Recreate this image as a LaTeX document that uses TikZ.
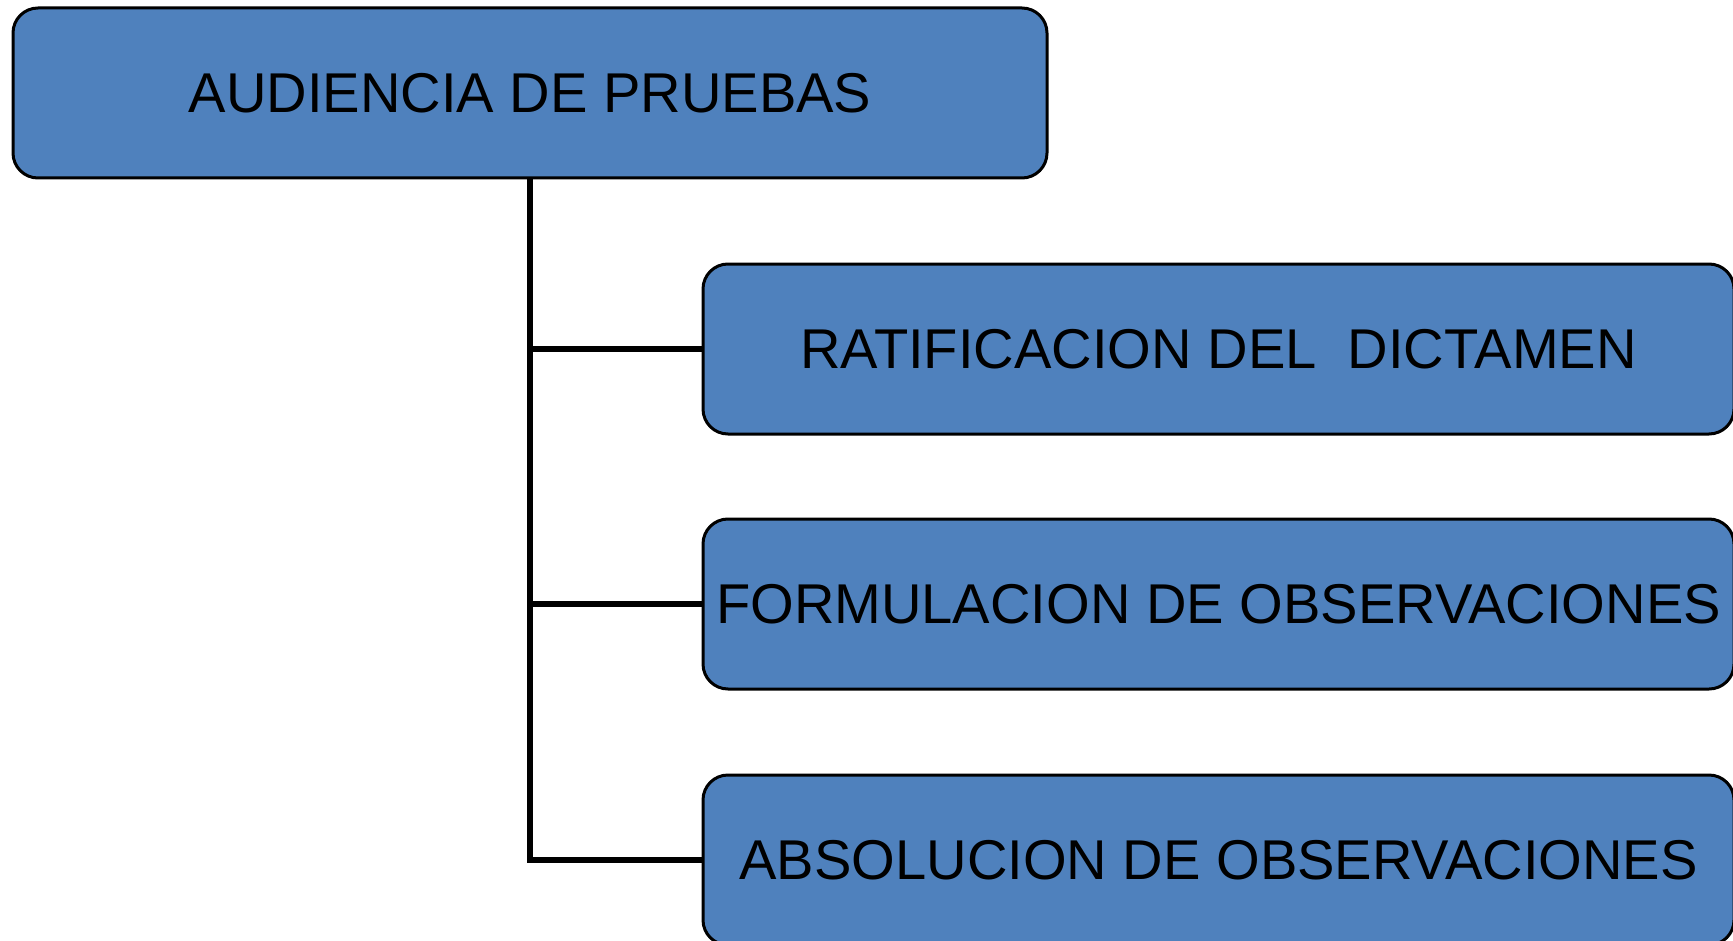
\documentclass[tikz,border=0pt]{standalone}
\usepackage{fontspec}
\setmainfont{Liberation Sans}
\usepackage{tikz}
\usetikzlibrary{positioning}
\definecolor{boxblue}{HTML}{4F81BD}

\begin{document}
\begin{tikzpicture}[
   x=1pt,y=1pt,
   font=\fontsize{28.05}{32}\selectfont,
   step box/.style={draw,line width=1.5pt,fill=boxblue,rounded corners=12.5pt,
      minimum height=85pt,inner sep=0pt},
   top box/.style={step box,minimum width=517pt},
   sub box/.style={step box,minimum width=515.5pt},
   link/.style={line width=2.8pt}]
\clip (0,0) rectangle (866.5,-470.5);
\useasboundingbox (0,0) rectangle (866.5,-470.5);
\node[top box] (AUD) at (265,-46.5) {AUDIENCIA DE PRUEBAS};
\node[sub box] (RAT) at (609.25,-174.5) {RATIFICACION DEL\ \ DICTAMEN};
\node[sub box] (FOR) at (609.25,-302) {FORMULACION DE OBSERVACIONES};
\node[sub box] (ABS) at (609.25,-430) {ABSOLUCION DE OBSERVACIONES};
\draw[link]  (AUD.south) |- (RAT.west);
\draw[link]  (AUD.south) |- (FOR.west);
\draw[link]  (AUD.south) |- (ABS.west);
\end{tikzpicture}
\end{document}
